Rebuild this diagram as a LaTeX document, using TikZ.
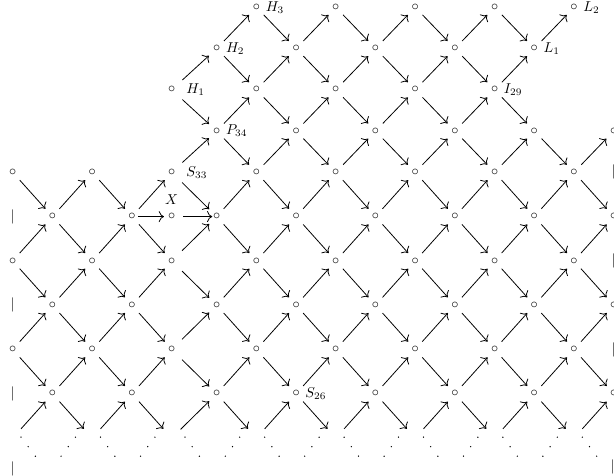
\documentclass[tikz,border=0pt]{standalone}
\usepackage{amsmath,amssymb}
\usepackage{tikz}
\usetikzlibrary{arrows.meta, positioning}

\begin{document}
\begin{tikzpicture}[
        x=0.7pt, y=-0.7pt,
        >={Computer Modern Rightarrow[scale=1.3]},
        declare function={
          cx(\c)=(\c<5)*(12.7+39.75*\c)+(\c>4)*(216.7+39.7*(\c-5));
          ry(\r)=(\r<5)*(7.3+41.25*\r)+(\r>4)*(172.3+44.3*(\r-4));},
        vert/.style={circle, inner sep=0pt, outer sep=0pt, minimum size=14.7pt},
        bar/.style={inner sep=0pt},
        lab/.style={inner sep=0pt},
        arr/.style={->, line width=0.55pt}
      ]
      \useasboundingbox (0,0) rectangle (614,476);

      % upper part of the mesh
      \foreach \r/\cols in {0/{6,8,10,12,14}, 1/{5,7,9,11,13},
                            2/{4,6,8,10,12}, 3/{5,7,9,11,13,15}}
        \foreach \c in \cols
          \node[vert] (n-\c-\r) at ({cx(\c)},{ry(\r)}) {$\circ$};

      % lower part, with the cut marks on both sides
      \foreach \r in {4,...,9}
        \foreach \c in {0,...,15} {
          \ifodd\numexpr\c+\r\relax
            \ifnum\c=0 \node[bar] (n-\c-\r) at ({cx(\c)},{ry(\r)}) {$|$};\fi
            \ifnum\c=15 \node[bar] (n-\c-\r) at ({cx(\c)},{ry(\r)}) {$|$};\fi
          \else
            \node[vert] (n-\c-\r) at ({cx(\c)},{ry(\r)}) {$\circ$};
          \fi
        }
      \foreach \c in {0,2,...,14}
        \coordinate (n-\c-10) at ({cx(\c)},{ry(10)});
      \node[bar] (cut-l) at ({cx(0)},469) {$|$};
      \node[bar] (cut-r) at ({cx(15)-1},467) {$|$};

      % extra vertex
      \node[vert] (x) at ({cx(4)},{ry(5)}) {$\circ$};
      \node[lab, above=0.7pt of x] (xl) {$X$};

      % arrows
      \foreach \r/\dr/\cols in {1/-1/{5,7,9,11,13}, 0/1/{6,8,10,12},
                                2/-1/{4,6,8,10,12}, 1/1/{5,7,9,11},
                                3/-1/{5,7,9,11}, 2/1/{4,6,8,10,12},
                                4/-1/{4,6,8,10,12,14}, 3/1/{5,7,9,11,13},
                                4/1/{0,2,...,14}, 5/-1/{1,3,...,13},
                                5/1/{1,3,...,13}, 6/-1/{0,2,...,14},
                                6/1/{0,2,...,14}, 7/-1/{1,3,...,13},
                                7/1/{1,3,...,13}, 8/-1/{0,2,...,14},
                                8/1/{0,2,...,14}, 9/-1/{1,3,...,13}}
        \foreach \c in \cols {
          \pgfmathtruncatemacro\dc{\c+1}
          \pgfmathtruncatemacro\tr{\r+\dr}
          \pgfmathsetmacro\sh{\c==4 ? 2.8 : 0}
          \draw[arr, shorten <=\sh pt] (n-\c-\r) -- (n-\dc-\tr);
        }
      \foreach \c in {1,3,...,13} {
        \pgfmathtruncatemacro\dc{\c+1}
        \draw[arr, shorten >=8.7pt] (n-\c-9) -- (n-\dc-10);
      }
      \foreach \c in {0,2,...,14} {
        \pgfmathtruncatemacro\dc{\c+1}
        \draw[arr, shorten <=8.7pt] (n-\c-10) -- (n-\dc-9);
      }
      \draw[arr, shorten <=-3.15pt, shorten >=-1.95pt] (n-3-5) -- (x);
      \draw[arr, shorten <=0.75pt, shorten >=-4.25pt] (x) -- (n-5-5);

      % names
      \node[lab, right=-1pt of n-6-0] (h3) {$H_3$};
      \node[lab, right=-1pt of n-5-1] (h2) {$H_2$};
      \node[lab, right=2.8pt of n-4-2] (h1) {$H_1$};
      \node[lab, right=-1pt of n-5-3] (p34) {$P_{34}$};
      \node[lab, right=2.8pt of n-4-4] (s33) {$S_{33}$};
      \node[lab, right=-1pt of n-12-2] (i29) {$I_{29}$};
      \node[lab, right=-1pt of n-13-1] (l1) {$L_1$};
      \node[lab, right=-1pt of n-14-0] (l2) {$L_2$};
      \node[lab, right=-1pt of n-7-9] (s26) {$S_{26}$};

      % dots below the last row
      \foreach \c in {0,2,...,14} {
        \pgfmathsetmacro\px{cx(\c)+15.5+(\c==4)*5}
        \foreach \k in {-1,0,1}
          \fill ({\px+7.2*\k},{446.7+9.5*\k}) circle (0.5pt);
      }
      \foreach \c in {1,3,...,13} {
        \pgfmathsetmacro\px{cx(\c)+15.8}
        \foreach \k in {-1,0,1}
          \fill ({\px-7.2*\k},{446.7+9.5*\k}) circle (0.5pt);
      }
    \end{tikzpicture}
\end{document}
